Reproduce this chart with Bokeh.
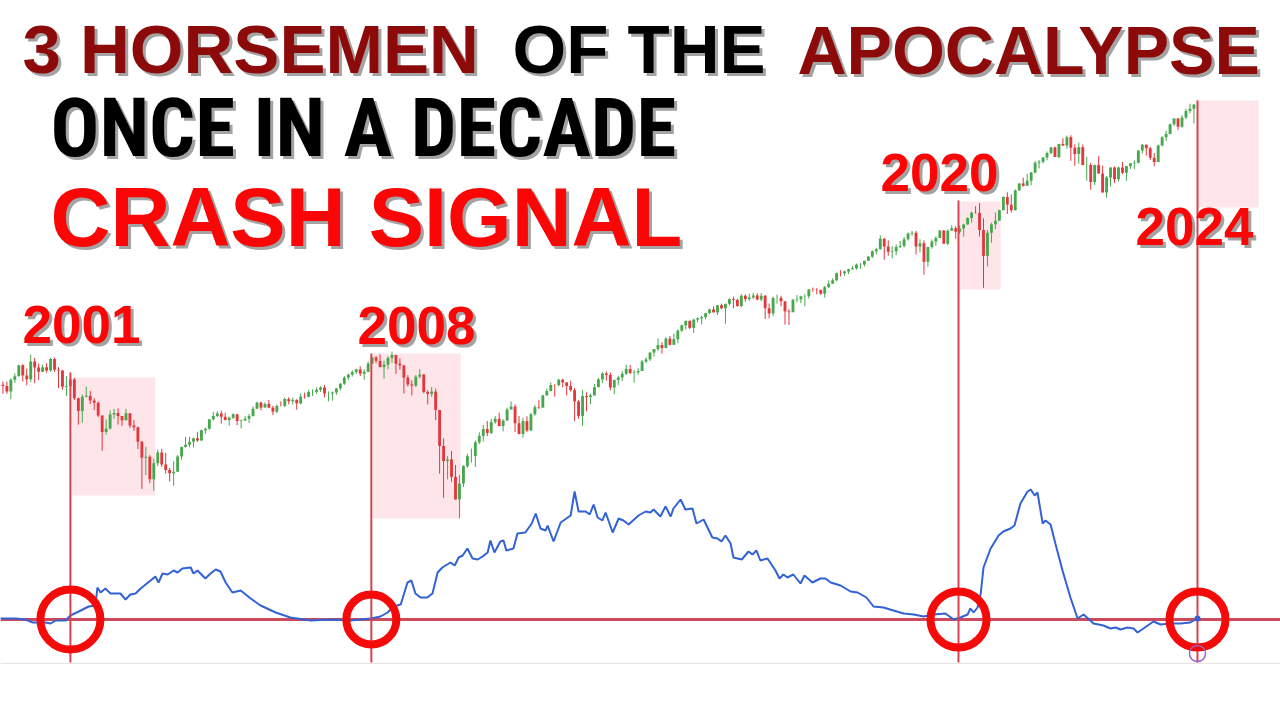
import numpy as np
from bokeh.plotting import figure
from bokeh.models import Range1d, Span, Label, LinearScale
from bokeh.embed import file_html
from bokeh.resources import INLINE

# ---------------- data: monthly index candles, Aug 1999 .. Aug 2024 ----------------
FIRST_OPEN = 1328.7
CLOSE = [
    1320.4, 1282.7, 1362.9, 1388.9, 1469.3,
    1394.5, 1366.4, 1498.6, 1452.4, 1420.6, 1454.6, 1430.8, 1517.7, 1436.5, 1429.4, 1315.0, 1320.3,
    1366.0, 1239.9, 1160.3, 1249.5, 1255.8, 1224.4, 1211.2, 1133.6, 1040.9, 1059.8, 1139.5, 1148.1,
    1130.2, 1106.7, 1147.4, 1076.9, 1067.1, 989.8, 911.6, 916.1, 815.3, 885.8, 936.3, 879.8,
    855.7, 841.2, 848.2, 916.9, 963.6, 974.5, 990.3, 1008.0, 996.0, 1050.7, 1058.2, 1111.9,
    1131.1, 1144.9, 1126.2, 1107.3, 1120.7, 1140.8, 1101.7, 1104.2, 1114.6, 1130.2, 1173.8, 1211.9,
    1181.3, 1203.6, 1180.6, 1156.9, 1191.5, 1191.3, 1234.2, 1220.3, 1228.8, 1207.0, 1249.5, 1248.3,
    1280.1, 1280.7, 1294.8, 1310.6, 1270.1, 1270.2, 1276.7, 1303.8, 1335.9, 1377.9, 1400.6, 1418.3,
    1438.2, 1406.8, 1420.9, 1482.4, 1530.6, 1503.4, 1455.3, 1474.0, 1526.8, 1549.4, 1481.1, 1468.4,
    1378.6, 1330.6, 1322.7, 1385.6, 1400.4, 1280.0, 1267.4, 1282.8, 1166.4, 968.8, 896.2, 903.3,
    825.9, 735.1, 797.9, 872.8, 919.1, 919.3, 987.5, 1020.6, 1057.1, 1036.2, 1095.6, 1115.1,
    1073.9, 1104.5, 1169.4, 1186.7, 1089.4, 1030.7, 1101.6, 1049.3, 1141.2, 1183.3, 1180.6, 1257.6,
    1286.1, 1327.2, 1325.8, 1363.6, 1345.2, 1320.6, 1292.3, 1218.9, 1131.4, 1253.3, 1247.0, 1257.6,
    1312.4, 1365.7, 1408.5, 1397.9, 1310.3, 1362.2, 1379.3, 1406.6, 1440.7, 1412.2, 1416.2, 1426.2,
    1498.1, 1514.7, 1569.2, 1597.6, 1630.7, 1606.3, 1685.7, 1633.0, 1681.6, 1756.5, 1805.8, 1848.4,
    1782.6, 1859.5, 1872.3, 1884.0, 1923.6, 1960.2, 1930.7, 2003.4, 1972.3, 2018.1, 2067.6, 2058.9,
    1995.0, 2104.5, 2067.9, 2085.5, 2107.4, 2063.1, 2103.8, 1972.2, 1920.0, 2079.4, 2080.4, 2043.9,
    1940.2, 1932.2, 2059.7, 2065.3, 2097.0, 2098.9, 2173.6, 2171.0, 2168.3, 2126.2, 2198.8, 2238.8,
    2278.9, 2363.6, 2362.7, 2384.2, 2411.8, 2423.4, 2470.3, 2471.7, 2519.4, 2575.3, 2647.6, 2673.6,
    2823.8, 2713.8, 2640.9, 2648.1, 2705.3, 2718.4, 2816.3, 2901.5, 2914.0, 2711.7, 2760.2, 2506.9,
    2704.1, 2784.5, 2834.4, 2945.8, 2752.1, 2941.8, 2980.4, 2926.5, 2976.7, 3037.6, 3141.0, 3230.8,
    3225.5, 2954.2, 2584.6, 2912.4, 3044.3, 3100.3, 3271.1, 3500.3, 3363.0, 3270.0, 3621.6, 3756.1,
    3714.2, 3811.2, 3972.9, 4181.2, 4204.1, 4297.5, 4395.3, 4522.7, 4307.5, 4605.4, 4567.0, 4766.2,
    4515.6, 4373.9, 4530.4, 4131.9, 4132.2, 3785.4, 4130.3, 3955.0, 3585.6, 3872.0, 4080.1, 3839.5,
    4076.6, 3970.2, 4109.3, 4169.5, 4179.8, 4450.4, 4589.0, 4507.7, 4288.1, 4193.8, 4567.8, 4769.8,
    4845.7, 5096.3, 5254.4, 5035.7, 5277.5, 5460.5, 5522.3, 5648.4,
]
HIGH = [
    1350.7, 1351.2, 1373.2, 1408.0, 1473.4,
    1478.0, 1444.6, 1552.9, 1527.2, 1481.5, 1474.6, 1485.9, 1525.2, 1530.1, 1455.0, 1433.0, 1389.9,
    1383.4, 1376.4, 1242.6, 1263.6, 1315.9, 1286.6, 1239.8, 1218.3, 1134.6, 1110.6, 1163.4, 1173.0,
    1176.6, 1130.9, 1173.0, 1147.8, 1106.6, 1070.0, 994.5, 965.0, 924.0, 907.4, 951.6, 954.3,
    935.1, 864.6, 895.9, 924.2, 965.4, 1015.3, 1015.4, 1011.0, 1040.3, 1053.8, 1063.6, 1112.6,
    1155.4, 1158.9, 1163.2, 1150.6, 1127.7, 1146.2, 1140.8, 1109.7, 1131.5, 1142.1, 1188.5, 1217.3,
    1217.9, 1212.2, 1229.1, 1191.9, 1199.6, 1219.6, 1245.2, 1245.9, 1243.1, 1233.3, 1270.6, 1275.8,
    1294.9, 1297.6, 1310.9, 1318.2, 1326.7, 1284.0, 1282.9, 1306.7, 1340.3, 1389.5, 1407.9, 1431.8,
    1441.6, 1461.6, 1438.9, 1498.0, 1535.6, 1540.6, 1555.9, 1503.9, 1538.7, 1576.1, 1545.1, 1523.6,
    1471.8, 1396.0, 1359.7, 1397.0, 1440.2, 1404.1, 1292.2, 1313.2, 1303.0, 1167.0, 1007.5, 919.0,
    943.9, 877.9, 832.9, 877.2, 930.2, 956.2, 996.7, 1039.5, 1080.2, 1101.4, 1113.7, 1130.4,
    1150.5, 1112.4, 1180.7, 1219.8, 1200.0, 1131.2, 1120.9, 1129.2, 1148.7, 1196.1, 1227.1, 1262.6,
    1302.7, 1344.1, 1332.3, 1370.6, 1370.6, 1345.2, 1356.5, 1307.4, 1229.3, 1292.7, 1277.6, 1269.4,
    1333.5, 1378.0, 1419.2, 1422.4, 1415.3, 1363.5, 1391.7, 1426.7, 1474.5, 1470.9, 1434.3, 1448.0,
    1509.9, 1530.9, 1570.3, 1597.6, 1687.2, 1654.2, 1698.8, 1709.7, 1729.9, 1768.0, 1813.6, 1849.4,
    1850.8, 1867.9, 1883.9, 1897.3, 1924.0, 1968.2, 1991.4, 2005.0, 2019.3, 2018.2, 2075.8, 2093.6,
    2072.4, 2119.6, 2117.5, 2125.9, 2134.7, 2129.9, 2132.8, 2112.7, 2020.9, 2094.3, 2116.5, 2104.3,
    2038.2, 1962.9, 2072.2, 2111.1, 2103.5, 2120.6, 2177.1, 2193.8, 2187.9, 2169.6, 2214.1, 2277.5,
    2301.0, 2371.5, 2401.0, 2398.2, 2418.7, 2453.8, 2484.0, 2490.9, 2519.4, 2582.0, 2657.7, 2695.0,
    2872.9, 2835.0, 2801.9, 2717.5, 2742.1, 2791.5, 2848.0, 2916.5, 2940.9, 2939.9, 2815.2, 2800.2,
    2709.0, 2813.5, 2860.3, 2949.5, 2954.1, 2964.2, 3028.0, 3013.6, 3022.0, 3050.1, 3154.3, 3247.9,
    3337.8, 3393.5, 3136.7, 2954.9, 3068.7, 3233.1, 3280.0, 3514.8, 3588.1, 3549.9, 3646.0, 3760.2,
    3870.9, 3950.4, 3983.9, 4218.8, 4238.0, 4302.4, 4430.0, 4537.4, 4545.9, 4608.1, 4743.8, 4808.9,
    4818.6, 4595.3, 4637.3, 4593.5, 4307.7, 4177.5, 4140.2, 4325.3, 4119.3, 3905.4, 4080.1, 4101.0,
    4094.2, 4195.4, 4110.8, 4170.1, 4231.1, 4458.5, 4607.1, 4531.4, 4541.3, 4393.6, 4587.6, 4793.3,
    4931.1, 5111.1, 5264.9, 5263.0, 5341.9, 5523.6, 5669.7, 5651.6,
]
LOW = [
    1268.4, 1268.4, 1233.7, 1342.0, 1387.4,
    1350.1, 1325.1, 1346.6, 1339.4, 1361.1, 1420.0, 1413.9, 1421.0, 1419.4, 1305.8, 1296.0, 1254.1,
    1274.6, 1228.3, 1081.2, 1091.9, 1245.4, 1203.0, 1165.5, 1124.1, 944.8, 1026.8, 1054.3, 1114.4,
    1081.7, 1074.4, 1106.6, 1063.5, 1048.0, 952.9, 775.7, 833.4, 800.2, 768.6, 872.8, 869.4,
    840.3, 806.3, 788.9, 847.9, 902.8, 960.8, 962.1, 960.8, 990.4, 995.4, 1031.2, 1053.4,
    1105.1, 1124.4, 1087.2, 1105.1, 1076.3, 1113.3, 1078.8, 1060.7, 1102.1, 1090.2, 1127.6, 1173.8,
    1163.8, 1180.6, 1176.9, 1136.2, 1146.2, 1188.3, 1183.6, 1201.1, 1201.1, 1168.2, 1201.1, 1236.6,
    1245.7, 1253.6, 1268.4, 1280.7, 1245.3, 1219.3, 1224.5, 1261.3, 1290.9, 1327.1, 1360.9, 1385.9,
    1403.9, 1389.4, 1363.8, 1416.4, 1476.7, 1484.2, 1454.3, 1370.6, 1439.3, 1489.6, 1406.1, 1435.7,
    1270.1, 1316.8, 1256.9, 1312.8, 1373.1, 1272.0, 1200.4, 1248.6, 1106.4, 839.8, 741.0, 815.7,
    804.5, 734.5, 666.8, 783.3, 866.1, 888.9, 869.3, 978.5, 991.0, 1020.2, 1029.4, 1085.9,
    1071.6, 1044.5, 1105.7, 1170.7, 1040.8, 1028.3, 1010.9, 1040.0, 1049.0, 1131.9, 1173.0, 1186.6,
    1257.6, 1289.8, 1249.1, 1318.5, 1311.8, 1258.1, 1282.9, 1101.5, 1114.2, 1074.8, 1158.7, 1202.4,
    1258.9, 1312.2, 1340.0, 1357.4, 1291.0, 1266.7, 1325.4, 1354.7, 1396.6, 1403.3, 1343.4, 1398.1,
    1426.2, 1485.0, 1501.5, 1536.0, 1581.3, 1560.3, 1604.6, 1627.5, 1633.4, 1646.5, 1746.2, 1767.0,
    1770.5, 1737.9, 1834.4, 1814.4, 1862.8, 1915.0, 1930.7, 1904.8, 1964.0, 1820.7, 2001.0, 1972.6,
    1988.1, 1980.9, 2039.7, 2048.4, 2067.9, 2056.3, 2044.0, 1867.0, 1871.9, 1893.7, 2019.4, 1993.3,
    1812.3, 1810.1, 1937.1, 2033.8, 2025.2, 1991.7, 2074.0, 2147.6, 2119.1, 2114.7, 2083.8, 2187.4,
    2245.1, 2266.9, 2322.3, 2329.0, 2352.7, 2405.7, 2407.7, 2417.4, 2446.6, 2520.4, 2557.5, 2605.5,
    2682.4, 2532.7, 2585.9, 2553.8, 2594.6, 2691.9, 2698.9, 2796.3, 2864.1, 2603.5, 2631.1, 2346.6,
    2444.0, 2681.8, 2722.3, 2848.6, 2750.5, 2728.8, 2952.2, 2822.1, 2891.9, 2855.9, 3050.7, 3070.3,
    3214.6, 2855.8, 2191.9, 2447.5, 2766.6, 2965.7, 3115.0, 3284.5, 3209.5, 3233.9, 3279.7, 3633.4,
    3694.1, 3725.6, 3723.3, 3955.5, 4056.9, 4164.4, 4233.1, 4367.7, 4305.9, 4278.9, 4560.0, 4495.1,
    4222.6, 4114.7, 4157.9, 4124.3, 3810.3, 3636.9, 3721.6, 3954.5, 3584.1, 3491.6, 3698.2, 3764.5,
    3794.3, 3943.1, 3808.9, 4049.0, 4048.3, 4166.9, 4385.1, 4335.3, 4238.6, 4103.8, 4202.0, 4546.5,
    4682.1, 4845.2, 5056.8, 4953.6, 5011.1, 5234.3, 5390.9, 5119.3,
]

# lower-pane indicator: month position (months since Aug 1999) and level
IND_T = [
    -0.6, 3.2, 5.7, 7.5, 10.7, 12.0, 13.3, 15.8, 17.0, 19.6, 21.6, 23.3, 23.8, 24.6, 25.8, 27.1,
    29.6, 30.9, 32.1, 33.4, 34.7, 37.2, 38.4, 39.2, 40.2, 41.5, 43.0, 44.0, 45.2, 47.3, 48.0, 49.0,
    51.0, 52.3, 53.6, 54.8, 56.1, 57.8, 59.9, 62.4, 64.9, 68.7, 72.4, 77.5, 82.5, 87.6, 92.6, 95.1,
    96.9, 98.4, 100.2, 101.9, 102.9, 103.9, 105.2, 106.9, 108.2, 109.5, 110.7, 112.7, 113.8, 114.8,
    115.8, 117.0, 118.3, 119.6, 120.8, 122.1, 122.8, 123.8, 125.3, 126.1, 126.8, 128.6, 129.6, 131.6,
    133.2, 134.2, 135.4, 136.7, 137.2, 138.7, 140.5, 143.0, 144.0, 145.0, 146.8, 147.8, 148.8, 149.8,
    151.0, 151.8, 153.6, 155.1, 156.3, 157.6, 160.1, 161.9, 163.1, 163.9, 165.6, 166.9, 168.2, 168.9,
    170.7, 171.9, 173.7, 174.7, 176.5, 178.7, 180.0, 181.0, 182.0, 183.3, 184.0, 186.1, 187.8, 188.8,
    189.8, 190.8, 192.6, 194.6, 195.6, 196.6, 197.6, 199.1, 200.9, 201.9, 203.9, 205.9, 207.2, 208.5,
    211.0, 213.5, 215.3, 217.5, 219.3, 221.8, 224.3, 226.9, 229.4, 231.9, 234.4, 237.4, 239.5, 241.2,
    243.0, 243.7, 244.5, 245.5, 246.3, 247.0, 248.8, 250.8, 252.0, 253.8, 254.8, 256.3, 258.1, 258.9,
    259.9, 260.6, 261.9, 262.6, 263.9, 265.1, 266.9, 268.9, 270.7, 272.2, 273.9, 274.7, 277.2, 279.0,
    280.3, 281.5, 283.3, 284.8, 285.8, 287.3, 289.8, 291.6, 294.1, 296.6, 299.1, 300.9,
]
IND_V = [
    0.1, 0.1, 0.0, -0.3, -0.3, -0.4, -0.1, -0.1, 0.4, 0.9, 1.3, 1.4, 3.2, 2.7, 3.1, 2.6,
    2.6, 2.0, 2.5, 2.6, 3.1, 3.9, 4.3, 3.7, 4.6, 4.5, 4.9, 4.7, 5.1, 5.2, 4.6, 4.9,
    4.1, 4.6, 5.0, 4.8, 3.7, 2.7, 2.9, 2.1, 1.4, 0.7, 0.2, -0.1, 0.0, -0.1, 0.1, 0.3,
    0.7, 1.3, 1.5, 3.7, 3.9, 2.6, 2.2, 2.2, 2.6, 4.7, 5.2, 5.7, 5.4, 6.2,
    6.4, 7.1, 6.1, 6.0, 6.3, 6.7, 7.9, 6.7, 7.8, 7.9, 6.9, 7.1, 8.6, 8.7,
    9.6, 10.6, 9.1, 8.9, 9.4, 7.8, 9.7, 10.4, 12.8, 10.8, 10.8, 10.5, 11.5, 10.2,
    9.9, 10.7, 8.7, 10.1, 9.9, 9.5, 10.4, 10.8, 10.7, 11.0, 10.3, 11.3, 10.3, 11.1,
    12.0, 11.0, 11.1, 9.6, 10.0, 8.2, 8.1, 7.8, 8.4, 7.6, 6.2, 6.0, 6.8, 6.5,
    6.9, 5.9, 6.1, 4.9, 4.1, 4.5, 4.2, 4.5, 3.6, 4.4, 3.7, 4.1, 4.1, 3.7,
    3.4, 2.8, 2.7, 2.2, 1.3, 1.2, 0.9, 0.6, 0.5, 0.3, 0.5, 0.6, 0.0, 0.2,
    0.5, 1.1, 0.7, 1.2, 2.6, 5.2, 7.1, 8.4, 8.8, 9.1, 9.4, 11.6, 12.8, 13.0,
    12.4, 12.7, 9.6, 9.9, 9.5, 7.6, 4.9, 2.2, 0.1, 0.5, -0.1, -0.4, -0.6, -0.9,
    -0.8, -1.0, -0.8, -0.9, -1.3, -0.9, -0.2, -0.5, -0.4, -0.4, -0.3, 0.1,
]

# crash-signal events (month positions) and their labels
SIG_T = [17.0, 92.8, 240.7, 300.9]
SIG_LABELS = ["2001", "2008", "2020", "2024"]
SIG_LINE_TOP = [1416, 1561, 3439, 5764]
RING_SIZE = [60, 50, 56, 56]
# shaded crash windows: start, end (months) and price band
ZONE_START = [17.5, 93.1, 241.2, 300.9]
ZONE_END = [38.4, 115.3, 251.3, 316.3]
ZONE_TOP = [1379, 1561, 3422, 5764]
ZONE_BOTTOM = [750, 666, 2172, 3318]

# ---------------- derived ----------------
close = np.array(CLOSE)
opn = np.array([FIRST_OPEN] + CLOSE[:-1])
high = np.maximum(np.array(HIGH), np.maximum(opn, close))
low = np.minimum(np.array(LOW), np.minimum(opn, close))
t = np.arange(len(close))
up = close >= opn

W, H = 1280, 720
p = figure(width=W, height=H, x_range=Range1d(-0.61, 321.81),
           y_range=Range1d(234.8, 9659), y_axis_type="log",
           output_backend="svg", toolbar_location=None, title=None,
           x_axis_location=None, y_axis_location=None, min_border=0,
           outline_line_color=None, background_fill_color="white",
           border_fill_color="white")
p.xgrid.visible = False
p.ygrid.visible = False
p.extra_y_ranges = {"ind": Range1d(-10.1, 61.9)}
p.extra_y_scales = {"ind": LinearScale()}

# shaded windows
p.quad(left=ZONE_START, right=ZONE_END, top=ZONE_TOP, bottom=ZONE_BOTTOM,
       fill_color="#fde5e9", line_color=None)

GREEN, RED = "#46a84c", "#e2373d"
cols = np.where(up, GREEN, RED)
p.segment(x0=t, y0=low, x1=t, y1=high, line_color=list(cols), line_width=1)
p.vbar(x=t, width=0.72, top=np.maximum(opn, close), bottom=np.minimum(opn, close),
       fill_color=list(cols), line_color=None)

# zero line and pane separator (under glyphs)
p.add_layout(Span(location=0, dimension="width", y_range_name="ind",
                  line_color="#cc4a5c", line_width=3, level="underlay"))
p.add_layout(Span(location=-4.4, dimension="width", y_range_name="ind",
                  line_color="#e4e4e4", line_width=1, level="underlay"))

# indicator
p.line(IND_T, IND_V, y_range_name="ind", line_color="#3262d4", line_width=2)

# event lines
p.segment(x0=SIG_T, y0=[316.7] * len(SIG_T), x1=SIG_T, y1=SIG_LINE_TOP,
          line_color="#d8424f", line_width=2)

# rings
p.scatter(SIG_T, [0] * len(SIG_T), y_range_name="ind", marker="circle",
          size=RING_SIZE, fill_color=None, line_color="#f50a0a", line_width=8)
p.scatter([IND_T[-1]], [IND_V[-1]], y_range_name="ind", marker="circle",
          size=6, fill_color="#3262d4", line_color=None)
p.scatter([SIG_T[-1]], [-3.4], y_range_name="ind", marker="circle",
          size=16, fill_color=None, line_color="#9a62c4", line_width=1.5)

# ---------------- texts ----------------
def put(text, x, base, size, color, font="Liberation Sans", shadow="#a3a3a3", off=3):
    y = H - base + 0.40 * size
    for dx, dy, c in ((off, -off, shadow), (0, 0, color)):
        p.add_layout(Label(x=x + dx, y=y + dy, x_units="screen", y_units="screen",
                           text=text, text_font=font, text_font_size=f"{size}px",
                           text_font_style="bold", text_color=c,
                           text_baseline="alphabetic", text_align="left"))

DARK = "#8c0a0a"
BRIGHT = "#fa0606"
put("3 HORSEMEN", 22, 77, 69, DARK)
put("OF THE", 512, 77, 69, "#000000")
put("APOCALYPSE", 797, 77, 68, DARK)
put("ONCE IN A DECADE", 50, 160, 81, "#000000",
    font="'Roboto Condensed', 'DejaVu Sans Condensed', 'Liberation Sans'")
put("CRASH SIGNAL", 50, 250, 83, BRIGHT)
for lab, x, base in zip(SIG_LABELS, [22, 357, 880, 1135], [345, 346, 193, 247]):
    put(lab, x, base, 53, BRIGHT)

open("out.html", "w").write(file_html(p, INLINE))
